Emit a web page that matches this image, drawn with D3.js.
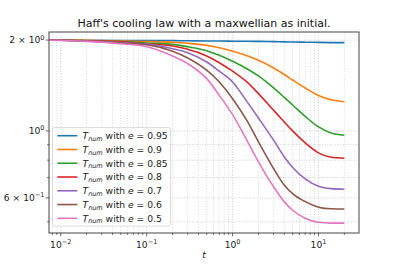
<!DOCTYPE html>
<html>
<head>
<meta charset="utf-8">
<script src="https://cdn.jsdelivr.net/npm/d3@7"></script>
<style>
  body { margin: 0; background: #fff; }
  text { font-family: "DejaVu Sans", sans-serif; }
</style>
</head>
<body>
<svg id="chart" width="399" height="266"></svg>
<script>
// sample times
var times = [0.0073, 0.02, 0.05, 0.1, 0.2, 0.3, 0.5, 0.7, 1, 1.5, 2, 3, 4, 5, 7, 10, 14, 20];

var restitution = ["0.95", "0.9", "0.85", "0.8", "0.7", "0.6", "0.5"];
var colors = ["#1f77b4", "#ff7f0e", "#2ca02c", "#d62728", "#9467bd", "#8c564b", "#e377c2"];

var t095 = [2.0, 1.997, 1.994, 1.994, 1.991, 1.990, 1.986, 1.986, 1.983, 1.981, 1.980, 1.976, 1.973, 1.970, 1.968, 1.965, 1.962, 1.961];
var t090 = [2.0, 1.995, 1.986, 1.978, 1.966, 1.951, 1.921, 1.887, 1.836, 1.771, 1.714, 1.617, 1.538, 1.475, 1.388, 1.311, 1.269, 1.25];
var t085 = [2.0, 1.99, 1.978, 1.956, 1.936, 1.901, 1.845, 1.781, 1.701, 1.601, 1.521, 1.388, 1.291, 1.219, 1.117, 1.031, 0.985, 0.968];
var t080 = [2.0, 1.99, 1.973, 1.945, 1.911, 1.864, 1.771, 1.683, 1.577, 1.445, 1.329, 1.171, 1.071, 1.0, 0.913, 0.846, 0.818, 0.812];
var t070 = [2.0, 1.985, 1.961, 1.941, 1.873, 1.816, 1.692, 1.577, 1.453, 1.241, 1.104, 0.932, 0.820, 0.757, 0.694, 0.656, 0.644, 0.641];
var t060 = [2.0, 1.983, 1.956, 1.930, 1.836, 1.745, 1.589, 1.453, 1.279, 1.071, 0.920, 0.750, 0.661, 0.620, 0.583, 0.559, 0.552, 0.551];
var t050 = [1.997, 1.98, 1.945, 1.90, 1.771, 1.671, 1.490, 1.313, 1.132, 0.920, 0.790, 0.653, 0.582, 0.546, 0.514, 0.498, 0.495, 0.495];

var series = [t095, t090, t085, t080, t070, t060, t050];

var xMajor = [0.01, 0.1, 1, 10];
var xMajorLabels = ["\u22122", "\u22121", "0", "1"];
var yTicks = [0.5, 0.6, 0.7, 0.8, 0.9, 1, 2];

var svg = d3.select("#chart");

var pLeft = 49, pRight = 359, pTop = 32, pBottom = 233;

var x = d3.scaleLog().domain([0.0073, 29.6]).range([pLeft, pRight]);
var y = d3.scaleLog().domain([0.459, 2.127]).range([pBottom, pTop]);

// minor x ticks
var xMinor = [];
[0.001, 0.01, 0.1, 1, 10].forEach(function(d) {
  for (var k = 1; k < 10; k++) {
    var v = +(d * k).toPrecision(3);
    if (v >= x.domain()[0] && v <= x.domain()[1]) xMinor.push(v);
  }
});
function isMajor(v) { return xMajor.some(m => Math.abs(m - v) < 1e-9); }

// grid
var grid = svg.append("g");
grid.selectAll("line.vx").data(xMinor).enter().append("line")
  .attr("x1", d => x(d)).attr("x2", d => x(d))
  .attr("y1", pTop).attr("y2", pBottom)
  .attr("stroke", d => isMajor(d) ? "#c0c0c0" : "#d0d0d0")
  .attr("stroke-width", 0.8)
  .attr("stroke-dasharray", "1,1.6");
grid.selectAll("line.hy").data(yTicks).enter().append("line")
  .attr("x1", pLeft).attr("x2", pRight)
  .attr("y1", d => y(d)).attr("y2", d => y(d))
  .attr("stroke", "#c0c0c0")
  .attr("stroke-width", 0.8)
  .attr("stroke-dasharray", "1,1.6");

// curves
svg.append("clipPath").attr("id", "clip")
  .append("rect").attr("x", pLeft).attr("y", pTop).attr("width", pRight - pLeft).attr("height", pBottom - pTop);

var line = d3.line()
  .x((d, i) => x(times[i]))
  .y(d => y(d))
  .curve(d3.curveMonotoneX);

svg.append("g").attr("clip-path", "url(#clip)")
  .selectAll("path").data(series).enter().append("path")
  .attr("d", line)
  .attr("fill", "none")
  .attr("stroke", (d, i) => colors[i])
  .attr("stroke-width", 1.6);

// axes frame
svg.append("rect")
  .attr("x", pLeft).attr("y", pTop).attr("width", pRight - pLeft).attr("height", pBottom - pTop)
  .attr("fill", "none").attr("stroke", "#444").attr("stroke-width", 1);

// x ticks
var xt = svg.append("g");
xt.selectAll("line.mn").data(xMinor).enter().append("line")
  .attr("x1", d => x(d)).attr("x2", d => x(d))
  .attr("y1", pBottom).attr("y2", d => pBottom + (isMajor(d) ? 3.3 : 1.9))
  .attr("stroke", "#444").attr("stroke-width", 0.8);
var xl = xt.selectAll("text").data(xMajor).enter().append("text")
  .attr("x", d => x(d)).attr("y", 247.5)
  .attr("text-anchor", "middle")
  .attr("font-size", 9.2)
  .attr("fill", "#222");
xl.append("tspan").text("10");
xl.append("tspan").attr("dy", -3.8).attr("font-size", 6.5).text((d, i) => xMajorLabels[i]);

// y ticks
var yt = svg.append("g");
yt.selectAll("line").data(yTicks).enter().append("line")
  .attr("x1", pLeft).attr("x2", d => pLeft - ([1, 2, 0.6].indexOf(d) >= 0 ? 3.3 : 1.9))
  .attr("y1", d => y(d)).attr("y2", d => y(d))
  .attr("stroke", "#444").attr("stroke-width", 0.8);

var yLabels = [
  { v: 2, pre: "2 \u00d7 10", sup: "0" },
  { v: 1, pre: "10", sup: "0" },
  { v: 0.6, pre: "6 \u00d7 10", sup: "\u22121" }
];
var yl = yt.selectAll("text").data(yLabels).enter().append("text")
  .attr("x", 44.5).attr("y", d => y(d.v) + 3.3)
  .attr("text-anchor", "end")
  .attr("font-size", 9.2)
  .attr("fill", "#222");
yl.append("tspan").text(d => d.pre);
yl.append("tspan").attr("dy", -3.8).attr("font-size", 6.5).text(d => d.sup);

// title and x label
svg.append("text")
  .attr("x", (pLeft + pRight) / 2).attr("y", 26.5)
  .attr("text-anchor", "middle")
  .attr("font-size", 11)
  .attr("fill", "#111")
  .text("Haff's cooling law with a maxwellian as initial.");

svg.append("text")
  .attr("x", (pLeft + pRight) / 2).attr("y", 258)
  .attr("text-anchor", "middle")
  .attr("font-size", 9.2)
  .attr("font-style", "italic")
  .attr("fill", "#222")
  .text("t");

// legend
var legend = svg.append("g");
legend.append("rect")
  .attr("x", 52.5).attr("y", 127.5).attr("width", 118).attr("height", 98.5)
  .attr("rx", 2).attr("ry", 2)
  .attr("fill", "#fff").attr("fill-opacity", 0.85)
  .attr("stroke", "#d6d6d6").attr("stroke-width", 0.8);

var rows = legend.selectAll("g.row").data(restitution).enter().append("g")
  .attr("transform", (d, i) => "translate(0," + (135.7 + i * 13.77) + ")");
rows.append("line")
  .attr("x1", 57.3).attr("x2", 77.3).attr("y1", 0).attr("y2", 0)
  .attr("stroke", (d, i) => colors[i]).attr("stroke-width", 1.6);
var lt = rows.append("text")
  .attr("x", 82.5).attr("y", 3.3)
  .attr("font-size", 9.2)
  .attr("fill", "#222");
lt.append("tspan").attr("font-style", "italic").text("T");
lt.append("tspan").attr("font-style", "italic").attr("font-size", 6.5).attr("dy", 1.8).text("num");
lt.append("tspan").attr("dy", -1.8).text(" with ");
lt.append("tspan").attr("font-style", "italic").text("e");
lt.append("tspan").text(d => " = " + d);
</script>
</body>
</html>
